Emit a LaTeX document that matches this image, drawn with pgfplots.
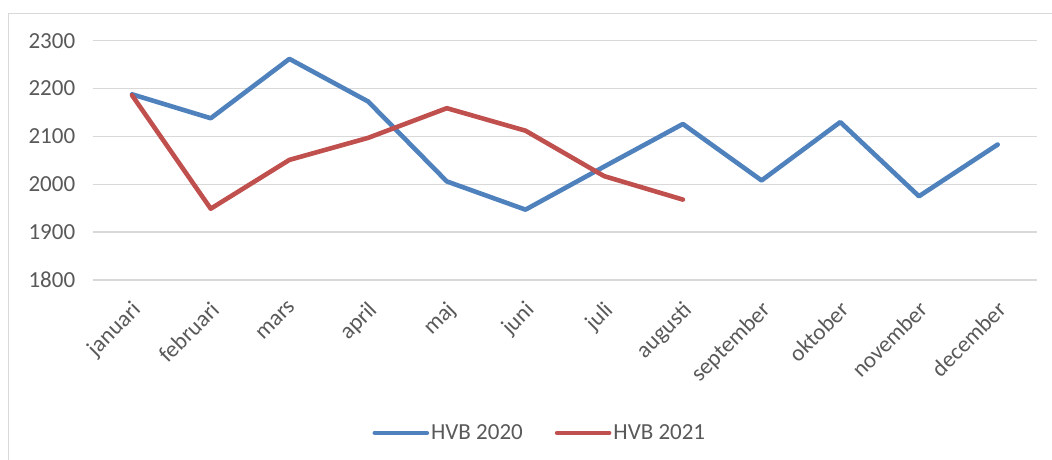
\documentclass[border=0pt]{standalone}
\usepackage{pgfplots}
\pgfplotsset{compat=1.18}
\usepackage{fontspec}
\setmainfont{Carlito}
\definecolor{blueS}{HTML}{4F81BD}
\definecolor{redS}{HTML}{C0504D}
\definecolor{gridg}{HTML}{D9D9D9}
\definecolor{txt}{HTML}{595959}
\begin{document}
\begin{tikzpicture}[x=1pt,y=1pt]
\useasboundingbox (0,0) rectangle (1052,-459);
\draw[gridg, line width=1.5pt] (8.5,-13.5) rectangle (1080,-490);
\begin{axis}[
  at={(92.7pt,-280pt)}, anchor=south west,
  scale only axis, width=944.3pt, height=239.3pt,
  xmin=-0.5, xmax=11.5, ymin=1800, ymax=2300,
  axis line style={draw=none},
  major tick length=0pt,
  ytick={1800,1900,2000,2100,2200,2300},
  xtick={0,1,2,3,4,5,6,7,8,9,10,11},
  xticklabels={januari,februari,mars,april,maj,juni,juli,augusti,september,oktober,november,december},
  ymajorgrids,
  grid style={gridg, line width=1.5pt},
  /pgf/number format/assume math mode=true,
  /pgf/number format/1000 sep={},
  tick label style={font=\fontsize{23}{27}\selectfont, text=txt},
  yticklabel style={xshift=-14pt},
  xticklabel style={xshift=-1.5pt, yshift=-15pt, rotate=45, anchor=north east},
  clip=false,
  legend style={at={(0.4735,-0.639)}, anchor=center, draw=none, fill=none,
    font=\fontsize{23}{27}\selectfont, text=txt, legend columns=2,
    /tikz/every even column/.append style={column sep=30pt}},
  legend image code/.code={\draw[#1, line cap=round] (0pt,0pt) -- (52pt,0pt);},
]
\addplot[blueS, line width=4.6pt, line join=round, line cap=round] coordinates {
(0,2188) (1,2138) (2,2262) (3,2173) (4,2006) (5,1947) (6,2037) (7,2126) (8,2008) (9,2130) (10,1975) (11,2083)};
\addlegendentry{HVB 2020}
\addplot[redS, line width=4.6pt, line join=round, line cap=round] coordinates {
(0,2186) (1,1949) (2,2051) (3,2097) (4,2159) (5,2112) (6,2017) (7,1968)};
\addlegendentry{HVB 2021}
\end{axis}
\end{tikzpicture}
\end{document}
